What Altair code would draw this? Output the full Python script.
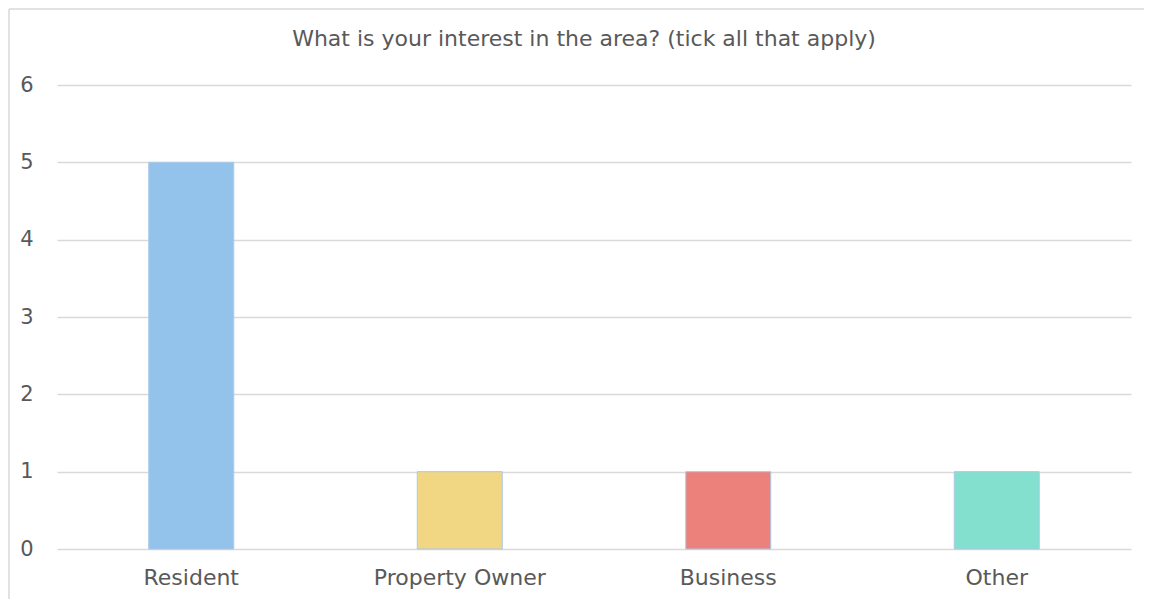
import altair as alt
import pandas as pd

categories = ["Resident", "Property Owner", "Business", "Other"]
values = [5, 1, 1, 1]
colors = ["#93C2EA", "#F1D684", "#EC807B", "#83DFCE"]
title_text = ["What is your interest in the area? (tick all that apply)"]

df = pd.DataFrame({"category": categories, "value": values, "color": colors})

W, H = 1074, 464
FONT = "DejaVu Sans"
TXT = "#595959"
BORDER = "#D9D9D9"

one = pd.DataFrame({"a": [0]})
top_line = alt.Chart(one).mark_rule(color=BORDER, strokeWidth=1.5, clip=False).encode(
    x=alt.value(-48), x2=alt.value(W + 60), y=alt.value(-76),
)
left_line = alt.Chart(one).mark_rule(color=BORDER, strokeWidth=1.5, clip=False).encode(
    x=alt.value(-48), y=alt.value(-76), y2=alt.value(H + 80),
)

title = alt.Chart(pd.DataFrame({"t": title_text})).mark_text(
    font=FONT, fontSize=22, color=TXT, align="center", baseline="alphabetic",
    clip=False
).encode(
    text="t:N", x=alt.value(W / 2 - 10), y=alt.value(-39),
)

bars = alt.Chart(df).mark_bar(size=85, stroke="#A9C9E8", strokeWidth=1).encode(
    x=alt.X("category:N", sort=categories, title=None,
            axis=alt.Axis(labelAngle=0, labelFontSize=22, labelColor=TXT,
                          labelFont=FONT, ticks=False, domain=False,
                          labelPadding=18, grid=False)),
    y=alt.Y("value:Q", scale=alt.Scale(domain=[0, 6]), title=None,
            axis=alt.Axis(values=[0, 1, 2, 3, 4, 5, 6], labelFontSize=21,
                          labelColor=TXT, labelFont=FONT, ticks=False,
                          domain=False, labelPadding=24, gridColor="#D9D9D9",
                          gridWidth=1.5)),
    color=alt.Color("color:N", scale=None),
)

chart = alt.layer(top_line, left_line, title, bars).properties(
    width=W, height=H,
    autosize=alt.AutoSizeParams(type="none"),
    padding={"left": 49, "top": 77, "right": 13, "bottom": 50},
).configure_view(stroke=None)

chart.save("out.html", embed_options={"renderer": "svg", "actions": False})
